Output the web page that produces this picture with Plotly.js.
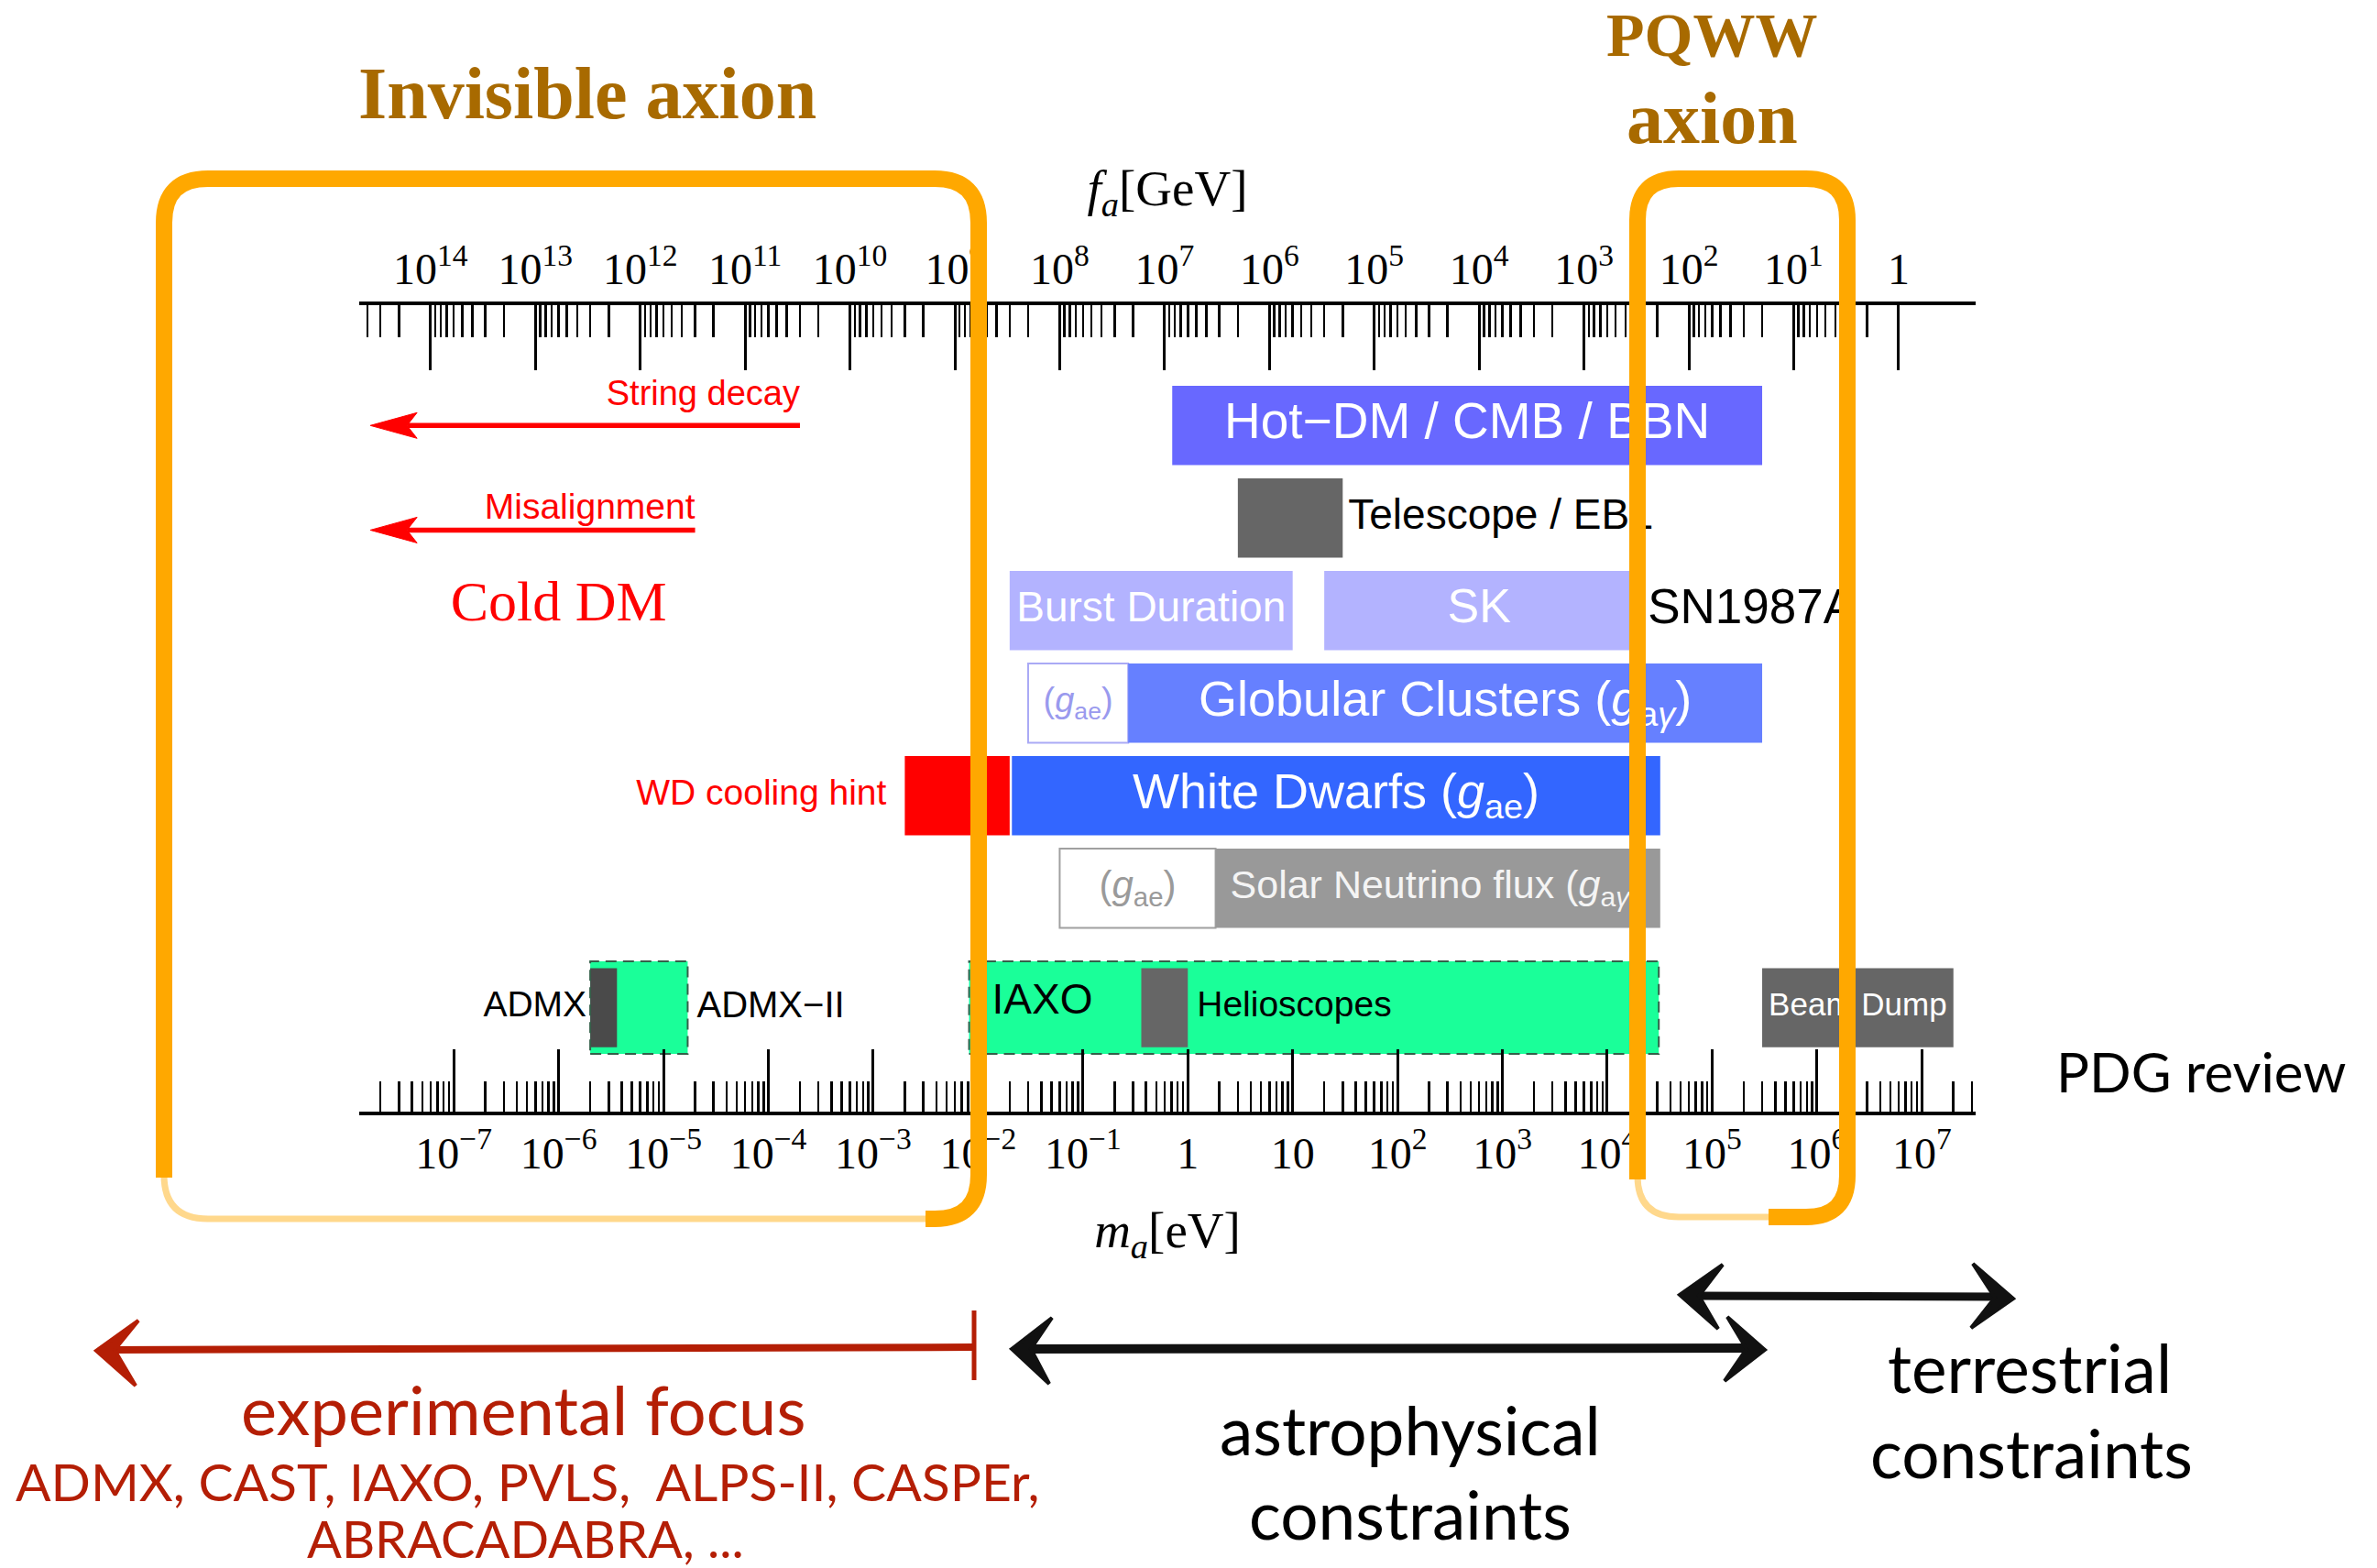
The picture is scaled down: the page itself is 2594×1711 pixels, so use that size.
<!DOCTYPE html>
<html>
<head>
<meta charset="utf-8">
<script src="https://cdn.plot.ly/plotly-3.0.1.min.js"></script>
<style>html,body{margin:0;padding:0;background:#fff}#chart{width:2594px;height:1711px}</style>
</head>
<body>
<div id="chart"></div>
<script>
// ================= DATA =================
// bottom axis: axion mass m_a [eV]; top axis: decay constant f_a [GeV]
const massTickVals = [1e-7,1e-6,1e-5,1e-4,1e-3,1e-2,1e-1,1,10,1e2,1e3,1e4,1e5,1e6,1e7];
const massTickText = ['10<sup>−7</sup>','10<sup>−6</sup>','10<sup>−5</sup>','10<sup>−4</sup>','10<sup>−3</sup>',
  '10<sup>−2</sup>','10<sup>−1</sup>','1','10','10<sup>2</sup>','10<sup>3</sup>','10<sup>4</sup>',
  '10<sup>5</sup>','10<sup>6</sup>','10<sup>7</sup>'];
const faTickVals = [1e14,1e13,1e12,1e11,1e10,1e9,1e8,1e7,1e6,1e5,1e4,1e3,1e2,10,1];
const faTickText = ['10<sup>14</sup>','10<sup>13</sup>','10<sup>12</sup>','10<sup>11</sup>','10<sup>10</sup>',
  '10<sup>9</sup>','10<sup>8</sup>','10<sup>7</sup>','10<sup>6</sup>','10<sup>5</sup>','10<sup>4</sup>',
  '10<sup>3</sup>','10<sup>2</sup>','10<sup>1</sup>','1'];
const faTimesMass = 6.0e6;        // m_a * f_a  [eV * GeV]
const massRangeLog = [-7.902, 7.513];

// constraint bars (mass ranges in eV)
const constraintNames = ['hotDM','telescope','burst','sk','gcGae','gcGag','wdHint','wd',
  'solarGae','solarGag','admxII','helioscopes','admx','cast','beamDump'];
const constraintRow = [6, 5, 4, 4, 3, 3, 2, 2, 1, 1, -0.29, -0.29, -0.29, -0.29, -0.29];
const massLow  = [0.71, 3,  0.02, 20,    0.03, 0.27, 2e-3, 0.021, 0.06, 1.84, 2e-6,   8.2e-3, 2e-6,   0.36, 3e5];
const massHigh = [3e5,  30, 10,   1.8e4, 0.27, 3e5,  0.02, 3.2e4, 1.84, 3.2e4, 1.7e-5, 3.1e4, 3.6e-6, 1.0,  2e7];

// bar labels: [constraint, text, placement]
const labelOf    = ['hotDM','telescope','burst','sk','sk','gcGae','gcGag','wdHint','wd','solarGae','solarGag',
                    'admxII','admxII','helioscopes','cast','beamDump'];
const labelText  = ['Hot−DM / CMB / BBN','Telescope / EBL','Burst Duration','SK','SN1987A',
  '(<i>g</i><sub>ae</sub>)','Globular Clusters (<i>g</i><sub>a<i>γ</i></sub>)','WD cooling hint',
  'White Dwarfs (<i>g</i><sub>ae</sub>)','(<i>g</i><sub>ae</sub>)','Solar Neutrino flux (<i>g</i><sub>a<i>γ</i></sub>)',
  'ADMX','ADMX−II','IAXO','Helioscopes','Beam Dump'];
const labelPlace = ['center','after','center','center','after','center','center','before','center','center','start',
                    'before','after','start','after','center'];

// cold dark matter arrows
const cdmArrowText = ['String decay','Misalignment'];
const cdmArrowTip  = [1.6e-8, 1.6e-8];
const cdmArrowEnd  = [2.0e-4, 2.0e-5];
const cdmArrowRow  = [6.0, 4.87];
const coldDMText = 'Cold DM', coldDMMass = 1e-6, coldDMRow = 4.05;

// ================= STYLES =================
const SERIF = 'Liberation Serif, Times New Roman, serif';
const SANS  = 'Liberation Sans, Arial, sans-serif';
const GILL  = 'Lato, Open Sans, sans-serif';
const ORANGE = '#FFA800', GOLD = '#A86A00', DARKRED = '#B41E05';
const barStyle = {
  hotDM:{fill:'#6868FF'}, telescope:{fill:'#666666'}, burst:{fill:'#B3B3FF'}, sk:{fill:'#B3B3FF'},
  gcGae:{fill:'#FFFFFF', line:'#AAAAF5', lw:2}, gcGag:{fill:'#6680FF'},
  wdHint:{fill:'#FF0000'}, wd:{fill:'#3366FF'},
  solarGae:{fill:'#FFFFFF', line:'#A0A0A0', lw:2}, solarGag:{fill:'#999999'},
  admxII:{fill:'#1AFF99', h:1.0, dash:true}, helioscopes:{fill:'#1AFF99', h:1.0, dash:true},
  admx:{fill:'#4A4A4A'}, cast:{fill:'#666666'}, beamDump:{fill:'#666666'}
};
const labelStyle = [
  {s:55,c:'#FFFFFF'},{s:46,c:'#000000',gap:6},{s:46,c:'#FFFFFF'},{s:52,c:'#FFFFFF'},{s:53,c:'#000000',gap:15},
  {s:38,c:'#9A9AEE'},{s:54,c:'#FFFFFF'},{s:39,c:'#FF0000',gap:20},{s:54,c:'#FFFFFF'},{s:42,c:'#9A9A9A'},
  {s:43,c:'#F4F4F4',gap:16},{s:39,c:'#000000',gap:4},{s:40,c:'#000000',gap:10},{s:46,c:'#000000',gap:25,dy:0.05},
  {s:39,c:'#000000',gap:10},{s:35,c:'#FFFFFF'}
];

// ================= GEOMETRY HELPERS =================
const W = 2594, H = 1711;
const M = {l:392, r:438, t:333, b:498};
const PW = W - M.l - M.r, PH = H - M.t - M.b;
const yRange = [-1.413, 7.30];
const ppd = PW / (massRangeLog[1] - massRangeLog[0]);   // px per decade
const ppu = PH / (yRange[1] - yRange[0]);               // px per row unit
const shiftPx = (m, dpx) => m * Math.pow(10, dpx / ppd);
const idx = n => constraintNames.indexOf(n);
const px = x => (x - M.l) / PW;
const py = y => (M.t + PH - y) / PH;
const faRange = [Math.log10(faTimesMass) - massRangeLog[0], Math.log10(faTimesMass) - massRangeLog[1]];

function minorTicks(lo, hi, keep) {
  const out = [];
  for (let n = -10; n <= 16; n++) for (let k = 2; k <= 9; k++) {
    const v = k * Math.pow(10, n), L = Math.log10(v);
    if (L > lo && L < hi && (!keep || keep(v))) out.push(v);
  }
  return out;
}
const massMinor = minorTicks(massRangeLog[0], massRangeLog[1]);
const faMinor = minorTicks(faRange[1], faRange[0], v => v > 1);

// ================= TRACES =================
const traces = [];
traces.push({
  type:'bar', orientation:'h', xaxis:'x', yaxis:'y',
  y: constraintRow, base: massLow, x: massHigh.map((h,i) => h - massLow[i]),
  width: constraintNames.map(n => barStyle[n].h || 0.855),
  marker:{ color: constraintNames.map(n => barStyle[n].fill),
           line:{ color: constraintNames.map(n => barStyle[n].line || 'rgba(0,0,0,0)'),
                  width: constraintNames.map(n => barStyle[n].lw || 0) } },
  textposition:'none', hoverinfo:'skip', showlegend:false
});
// dashed outlines of sensitivity boxes
constraintNames.forEach((n,i) => {
  if (!barStyle[n].dash) return;
  const h = barStyle[n].h / 2, r = constraintRow[i];
  traces.push({type:'scatter', mode:'lines', xaxis:'x', yaxis:'y',
    x:[massLow[i], massHigh[i], massHigh[i], massLow[i], massLow[i]],
    y:[r-h, r-h, r+h, r+h, r-h],
    line:{color:'#35604A', width:2, dash:'12px,7px'}, hoverinfo:'skip', showlegend:false});
});
// cold DM arrows
cdmArrowText.forEach((t,i) => {
  const tip = cdmArrowTip[i], r = cdmArrowRow[i];
  const back = shiftPx(tip, 51), notch = shiftPx(tip, 40), hh = 14 / ppu;
  traces.push({type:'scatter', mode:'lines', xaxis:'x', yaxis:'y', x:[notch, cdmArrowEnd[i]], y:[r, r],
    line:{color:'#FF0000', width:5.5}, hoverinfo:'skip', showlegend:false});
  traces.push({type:'scatter', mode:'lines', xaxis:'x', yaxis:'y', fill:'toself', fillcolor:'#FF0000',
    x:[tip, back, notch, back, tip], y:[r, r+hh, r, r-hh, r],
    line:{color:'#FF0000', width:1}, hoverinfo:'skip', showlegend:false});
});
// labels
const lx = [], ly = [], lpos = [], lsize = [], lcol = [];
labelText.forEach((t,i) => {
  const k = idx(labelOf[i]), st = labelStyle[i], lo = massLow[k], hi = massHigh[k];
  let x, p;
  if (labelPlace[i] === 'center') { x = Math.sqrt(lo*hi); p = 'middle center'; }
  else if (labelPlace[i] === 'after') { x = shiftPx(hi, st.gap); p = 'middle right'; }
  else if (labelPlace[i] === 'before') { x = shiftPx(lo, -st.gap); p = 'middle left'; }
  else { x = shiftPx(lo, st.gap); p = 'middle right'; }
  lx.push(x); ly.push(constraintRow[k] + (st.dy || 0)); lpos.push(p); lsize.push(st.s); lcol.push(st.c);
});
traces.push({type:'scatter', mode:'text', xaxis:'x', yaxis:'y', x:lx, y:ly, text:labelText,
  textposition:lpos, textfont:{family:SANS, size:lsize, color:lcol}, cliponaxis:false,
  hoverinfo:'skip', showlegend:false});
traces.push({type:'scatter', mode:'text', xaxis:'x', yaxis:'y',
  x:cdmArrowEnd, y:[cdmArrowRow[0]+0.31, cdmArrowRow[1]+0.22], text:cdmArrowText,
  textposition:'middle left', textfont:{family:SANS, size:[38,39], color:'#FF0000'},
  cliponaxis:false, hoverinfo:'skip', showlegend:false});
traces.push({type:'scatter', mode:'text', xaxis:'x', yaxis:'y', x:[coldDMMass], y:[coldDMRow],
  text:[coldDMText], textposition:'middle center', textfont:{family:SERIF, size:62, color:'#FF0000'},
  cliponaxis:false, hoverinfo:'skip', showlegend:false});
// anchor traces for the extra axes
['x2','x3','x4'].forEach(a => traces.push({type:'scatter', mode:'markers', xaxis:a, yaxis:'y',
  x:[100], y:[0], marker:{opacity:0, size:1}, hoverinfo:'skip', showlegend:false}));

// ================= SHAPES =================
function pathPx(cmds) { // cmds: array of [letter, x, y, (x2, y2)]
  return cmds.map(c => {
    if (c[0] === 'Z') return 'Z';
    let s = c[0] + px(c[1]).toFixed(5) + ',' + py(c[2]).toFixed(5);
    if (c.length > 3) s += ' ' + px(c[3]).toFixed(5) + ',' + py(c[4]).toFixed(5);
    return s;
  }).join(' ');
}
const shapes = [];
function orangeBox(x0, y0, x1, y1, r, leftEnd, bottomSplit) {
  shapes.push({type:'path', xref:'paper', yref:'paper', layer:'above',
    path: pathPx([['M',x0,leftEnd],['L',x0,y0+r],['Q',x0,y0,x0+r,y0],['L',x1-r,y0],['Q',x1,y0,x1,y0+r],
                  ['L',x1,y1-r],['Q',x1,y1,x1-r,y1],['L',bottomSplit,y1]]),
    line:{color:ORANGE, width:18}, fillcolor:'rgba(0,0,0,0)'});
  shapes.push({type:'path', xref:'paper', yref:'paper', layer:'above',
    path: pathPx([['M',bottomSplit,y1],['L',x0+r,y1],['Q',x0,y1,x0,y1-r],['L',x0,leftEnd]]),
    line:{color:'rgba(255,168,0,0.45)', width:7}, fillcolor:'rgba(0,0,0,0)'});
}
orangeBox(179, 195, 1068, 1330, 48, 1285, 1010);
orangeBox(1787, 195, 2016, 1328, 45, 1287, 1930);

function handLine(x0,y0,x1,y1,w,c) {
  shapes.push({type:'line', xref:'paper', yref:'paper', layer:'above',
    x0:px(x0), y0:py(y0), x1:px(x1), y1:py(y1), line:{color:c, width:w}});
}
function handHead(tip, top, notch, bot, c) {
  shapes.push({type:'path', xref:'paper', yref:'paper', layer:'above',
    path: pathPx([['M',tip[0],tip[1]],['L',top[0],top[1]],['L',notch[0],notch[1]],['L',bot[0],bot[1]],['Z']]),
    fillcolor:c, line:{color:c, width:4}});
}
// experimental focus arrow (red)
handLine(1062,1470,118,1473,8,DARKRED);
handHead([105,1474],[151,1441],[125,1473],[148,1512],DARKRED);
handLine(1063,1430,1063,1506,5,DARKRED);
// astrophysical constraints arrow
handLine(1115,1472,1915,1471,10,'#111111');
handHead([1104,1472],[1148,1438],[1125,1472],[1145,1510],'#111111');
handHead([1926,1473],[1885,1437],[1906,1472],[1882,1507],'#111111');
// terrestrial constraints arrow
handLine(1845,1414,2185,1415,9,'#111111');
handHead([1833,1413],[1880,1380],[1854,1414],[1875,1450],'#111111');
handHead([2197,1417],[2153,1379],[2177,1416],[2151,1449],'#111111');

// ================= ANNOTATIONS =================
const annotSpec = [
  ['<b>Invisible axion</b>', 641, 102, 80, GOLD, SERIF],
  ['<b>PQWW</b>', 1868, 38, 68, GOLD, SERIF],
  ['<b>axion</b>', 1868, 129, 80, GOLD, SERIF],
  ['PDG review', 2402, 1169, 60, '#000000', GILL],
  ['experimental focus', 571, 1537, 74, DARKRED, GILL],
  ['ADMX, CAST, IAXO, PVLS,\u00a0 ALPS-II, CASPEr,', 575, 1616, 57, DARKRED, GILL],
  ['ABRACADABRA, ...', 573, 1678, 56, DARKRED, GILL],
  ['astrophysical', 1539, 1560, 73, '#000000', GILL],
  ['constraints', 1539, 1652, 73, '#000000', GILL],
  ['terrestrial', 2215, 1492, 73, '#000000', GILL],
  ['constraints', 2217, 1585, 73, '#000000', GILL]
];
const annotations = annotSpec.map(a => ({text:a[0], x:px(a[1]), y:py(a[2]), xref:'paper', yref:'paper',
  xanchor:'center', yanchor:'middle', showarrow:false, font:{size:a[3], color:a[4], family:a[5]}}));

// ================= LAYOUT =================
const tickFont = {family:SERIF, size:48, color:'#000'};
const baseAxis = {type:'log', showgrid:false, zeroline:false, fixedrange:true, ticks:'inside', tickcolor:'#000'};
const layout = {
  width:W, height:H, margin:{l:M.l, r:M.r, t:M.t, b:M.b, pad:0},
  paper_bgcolor:'#fff', plot_bgcolor:'rgba(0,0,0,0)', showlegend:false, barmode:'overlay',
  xaxis: Object.assign({}, baseAxis, {range:massRangeLog, anchor:'y', side:'bottom', showline:true,
    linewidth:4, linecolor:'#000', ticklen:68, tickwidth:3, tickmode:'array', tickvals:massTickVals,
    ticktext:massTickText, tickfont:tickFont,
    title:{text:'<i>m</i><sub><i>a</i></sub>[eV]', font:{family:SERIF, size:55, color:'#000'}, standoff:40}}),
  xaxis2: Object.assign({}, baseAxis, {range:faRange, overlaying:'x', anchor:'y', side:'top', showline:true,
    linewidth:4, linecolor:'#000', ticklen:71, tickwidth:3, tickmode:'array', tickvals:faTickVals,
    ticktext:faTickText, tickfont:tickFont,
    title:{text:'<i>f</i><sub><i>a</i></sub>[GeV]', font:{family:SERIF, size:55, color:'#000'}, standoff:18}}),
  xaxis3: Object.assign({}, baseAxis, {range:massRangeLog, overlaying:'x', anchor:'y', side:'bottom',
    showline:false, ticklen:33, tickwidth:2.5, tickmode:'array', tickvals:massMinor, showticklabels:false}),
  xaxis4: Object.assign({}, baseAxis, {range:faRange, overlaying:'x', anchor:'y', side:'top',
    showline:false, ticklen:35, tickwidth:2.5, tickmode:'array', tickvals:faMinor, showticklabels:false}),
  yaxis: {range:yRange, visible:false, fixedrange:true},
  shapes: shapes, annotations: annotations
};
Plotly.newPlot('chart', traces, layout, {displayModeBar:false, staticPlot:true});
</script>
</body>
</html>
